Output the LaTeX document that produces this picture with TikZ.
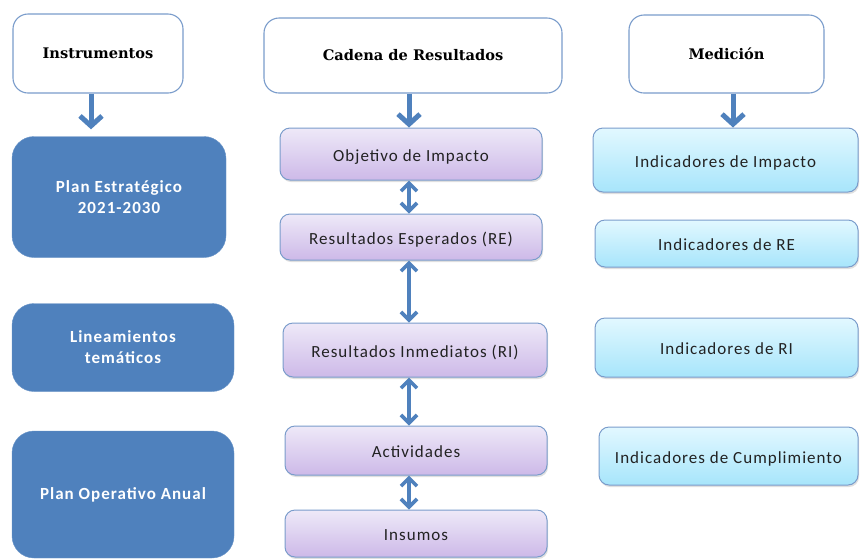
\documentclass[tikz,border=0pt]{standalone}
\usepackage{fontspec}
\newfontfamily\calib[LetterSpace=6]{Carlito}
\newfontfamily\titulo{DejaVu Serif}
\usetikzlibrary{arrows.meta,shadows}
\definecolor{azul}{HTML}{4F81BD}
\definecolor{borde}{HTML}{7A9CCB}
\definecolor{lilaA}{HTML}{EEE9F8}
\definecolor{lilaB}{HTML}{CDB9E8}
\definecolor{celA}{HTML}{E2F8FF}
\definecolor{celB}{HTML}{A7E5FB}
\definecolor{texto}{HTML}{222222}

\begin{document}
\begin{tikzpicture}[x=1pt,y=-1pt,
	cab/.style={draw=borde, line width=1.1pt, fill=white, rounded corners=15pt, inner sep=0pt,
		font=\titulo\fontsize{14.6}{17}\selectfont\bfseries, text=black},
	inst/.style={fill=azul, draw=azul!85!white, rounded corners=22pt, inner sep=0pt, align=center,
		text=white, font=\calib\fontsize{17}{21}\selectfont\bfseries},
	caja/.style={draw=borde, line width=1pt, rounded corners=10pt, inner sep=0pt, text=texto,
		font=\calib\fontsize{17}{20}\selectfont, text height=16pt, text depth=2pt,
		drop shadow={shadow xshift=1pt, shadow yshift=-2pt, opacity=0.25}},
	lila/.style={caja, top color=lilaA, bottom color=lilaB},
	celeste/.style={caja, top color=celA, bottom color=celB},
	baja/.style={draw=azul, line width=5pt, -{Straight Barb[length=10pt,width=22pt]}},
	doble/.style={draw=azul, line width=3.6pt,
		{Straight Barb[length=8pt,width=16pt]}-{Straight Barb[length=8pt,width=16pt]}}]
\useasboundingbox (0,0) rectangle (860,558);

% encabezados
\node [cab, minimum width=170pt, minimum height=79pt] (ins) at (98,53.5) {Instrumentos};
\node [cab, minimum width=298pt, minimum height=75pt] (cad) at (413,55.5) {Cadena de Resultados};
\node [cab, minimum width=195pt, minimum height=78pt] (med) at (726.5,54) {Medición};

% instrumentos
\node [inst, minimum width=214pt, minimum height=121pt] (pe) at (119,197) {Plan Estratégico\\2021-2030};
\node [inst, minimum width=222pt, minimum height=88pt] (lt) at (123,347.5) {Lineamientos\\temáticos};
\node [inst, minimum width=222pt, minimum height=127pt] (poa) at (123,494.5) {Plan Operativo Anual};

% cadena de resultados
\node [lila, minimum width=262pt, minimum height=52pt] (oi) at (411,154) {Objetivo de Impacto};
\node [lila, minimum width=262pt, minimum height=46pt] (re) at (411,237) {Resultados Esperados (RE)};
\node [lila, minimum width=264pt, minimum height=54pt] (ri) at (415,350) {Resultados Inmediatos (RI)};
\node [lila, minimum width=262pt, minimum height=49pt] (act) at (416,450.5) {Actividades};
\node [lila, minimum width=262pt, minimum height=47pt] (insu) at (416,533.5) {Insumos};

% medicion
\node [celeste, minimum width=265pt, minimum height=64pt] (ii) at (725.5,160) {Indicadores de Impacto};
\node [celeste, minimum width=263pt, minimum height=47pt] (ire) at (726.5,243.5) {Indicadores de RE};
\node [celeste, minimum width=263pt, minimum height=59pt] (iri) at (726.5,347.5) {Indicadores de RI};
\node [celeste, minimum width=259pt, minimum height=58pt] (ic) at (728.5,456) {Indicadores de Cumplimiento};

\draw [baja, shorten >=7pt] ([xshift=-7pt]ins.south) -- ([xshift=-7pt]ins.south |- pe.north);
\draw [baja] ([xshift=-4pt]cad.south) -- ([xshift=-4pt]cad.south |- oi.north);
\draw [baja] ([xshift=6.5pt]med.south) -- ([xshift=6.5pt]med.south |- ii.north);

\draw [doble] ([xshift=-2pt]oi.south) -- ([xshift=-2pt]oi.south |- re.north);
\draw [doble] ([xshift=-2pt]re.south) -- ([xshift=-2pt]re.south |- ri.north);
\draw [doble] ([xshift=-6pt]ri.south) -- ([xshift=-6pt]ri.south |- act.north);
\draw [doble] ([xshift=-7pt]act.south) -- ([xshift=-7pt]act.south |- insu.north);
\end{tikzpicture}
\end{document}
